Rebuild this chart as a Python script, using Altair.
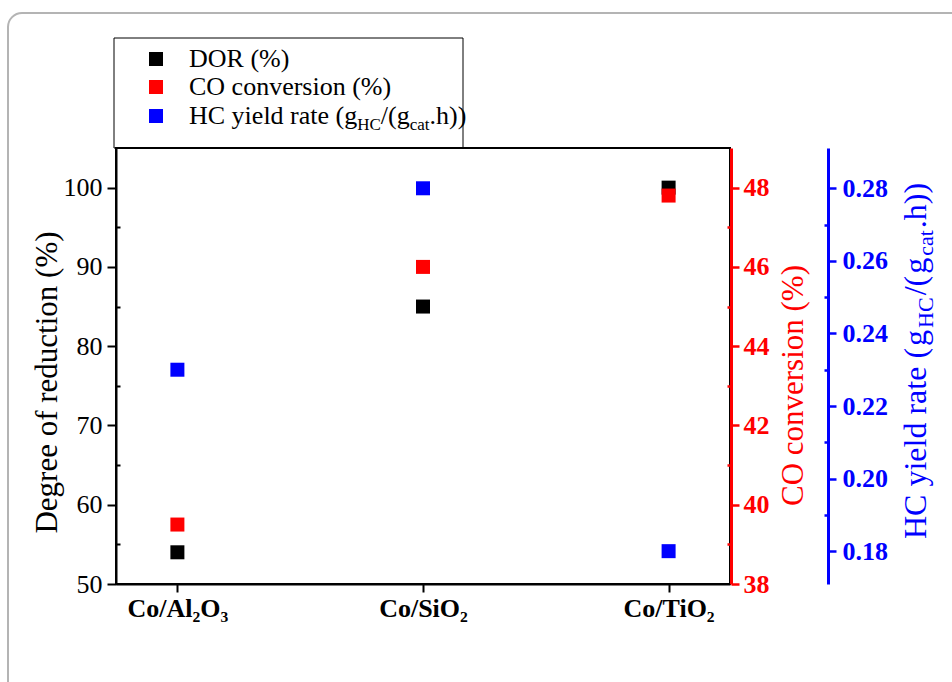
import altair as alt
import pandas as pd

# ---------------- data ----------------
categories = ["Co/Al₂O₃", "Co/SiO₂", "Co/TiO₂"]
dor = [54, 85, 100]
co_conv = [39.5, 46.0, 47.8]
hc_rate = [0.23, 0.28, 0.18]

series_names = ["DOR (%)", "CO conversion (%)"]
dor_ticks = [50, 60, 70, 80, 90, 100]
dor_minor = [55, 65, 75, 85, 95]
co_ticks = [38, 40, 42, 44, 46, 48]
co_minor = [39, 41, 43, 45, 47]
hc_ticks = [0.18, 0.20, 0.22, 0.24, 0.26, 0.28]
hc_minor = [0.19, 0.21, 0.23, 0.25, 0.27]

# ---------------- style ----------------
W, H = 614, 436
FONT = "Liberation Serif"
BLACK, RED, BLUE = "#000000", "#ff0000", "#0000ff"

df = pd.DataFrame({"cat": categories, "dor": dor, "co": co_conv, "hc": hc_rate})
one = pd.DataFrame({"k": [0]})

# Times/Liberation Serif advance widths (per 1000 em)
TW = {" ": 250, "(": 333, ")": 333, "/": 278, ".": 250, "%": 833,
      "H": 722, "C": 667, "a": 444, "c": 444, "d": 500, "e": 444, "g": 500,
      "h": 500, "i": 278, "l": 278, "r": 333, "t": 278, "y": 500}


def tw(s, size):
    return sum(TW.get(ch, 500) for ch in s) * size / 1000.0


x_enc = alt.X(
    "cat:N", sort=categories,
    scale=alt.Scale(type="point", padding=0.25),
    axis=alt.Axis(title=None, labelAngle=0, labelFont=FONT, labelFontSize=26,
                  labelFontWeight="bold", labelColor=BLACK, tickSize=8, tickWidth=2,
                  tickColor=BLACK, domainColor=BLACK, domainWidth=2, labelPadding=3),
)


def pts(field, color, domain, axis):
    return alt.Chart(df).mark_square(size=196, opacity=1, color=color).encode(
        x=x_enc,
        y=alt.Y(f"{field}:Q", scale=alt.Scale(domain=domain, nice=False, zero=False), axis=axis),
    )


def minor(field, domain, axis):
    return alt.Chart(df).mark_square(size=1, opacity=0).encode(
        x=x_enc,
        y=alt.Y(f"{field}:Q", scale=alt.Scale(domain=domain, nice=False, zero=False), axis=axis),
    )


dor_dom = [50, 105]
co_dom = [38, 49]
hc_dom = [0.17095, 0.2911]

dor_axis = alt.Axis(orient="left", values=dor_ticks, tickSize=9, tickWidth=2, tickColor=BLACK,
                    domainColor=BLACK, domainWidth=2, labelFont=FONT, labelFontSize=26,
                    labelColor=BLACK, labelPadding=5, grid=False,
                    title="Degree of reduction (%)", titleFont=FONT, titleFontSize=31,
                    titleFontWeight="normal", titleColor=BLACK, titleAngle=270,
                    titleX=-69, titleY=234, titleAlign="center", titleBaseline="middle")
dor_minor_axis = alt.Axis(orient="left", values=dor_minor, tickSize=4, tickWidth=2,
                          tickColor=BLACK, labels=False, domain=False, grid=False,
                          title=None, offset=-4)

co_axis = alt.Axis(orient="right", offset=1, values=co_ticks, tickSize=8, tickWidth=2.5,
                   tickColor=RED, domainColor=RED, domainWidth=3, labelFont=FONT,
                   labelFontSize=26, labelFontWeight="bold", labelColor=RED, labelPadding=4,
                   grid=False, title="CO conversion (%)", titleFont=FONT, titleFontSize=31,
                   titleFontWeight="normal", titleColor=RED, titleAngle=270,
                   titleX=62, titleY=237, titleAlign="center", titleBaseline="middle")
co_minor_axis = alt.Axis(orient="right", offset=-3, values=co_minor, tickSize=4, tickWidth=2.5,
                         tickColor=RED, labels=False, domain=False, grid=False, title=None)

hc_axis = alt.Axis(orient="right", offset=98, values=hc_ticks, format=".2f", tickSize=8,
                   tickWidth=2.5, tickColor=BLUE, domainColor=BLUE, domainWidth=3,
                   labelFont=FONT, labelFontSize=26, labelFontWeight="bold", labelColor=BLUE,
                   labelPadding=6, grid=False, title=None)
hc_minor_axis = alt.Axis(orient="right", offset=94, values=hc_minor, tickSize=4, tickWidth=2.5,
                         tickColor=BLUE, labels=False, domain=False, grid=False, title=None)

layers = [
    minor("dor", dor_dom, dor_minor_axis),
    pts("dor", BLACK, dor_dom, dor_axis),
    minor("co", co_dom, co_minor_axis),
    pts("co", RED, co_dom, co_axis),
    minor("hc", hc_dom, hc_minor_axis),
    pts("hc", BLUE, hc_dom, hc_axis),
]

# ---------------- decorations ----------------
card = alt.Chart(one).mark_rect(fillOpacity=0, stroke="#b4b4b4", strokeWidth=2,
                                cornerRadius=14).encode(
    x=alt.value(-108), x2=alt.value(W + 320), y=alt.value(-135), y2=alt.value(H + 300))

legend_box = alt.Chart(one).mark_rect(fillOpacity=0, stroke=BLACK, strokeWidth=1).encode(
    x=alt.value(-2), x2=alt.value(347), y=alt.value(-110), y2=alt.value(0))

deco = [card, legend_box]
leg_rows = [-89, -61, -32]
leg_colors = [BLACK, RED, BLUE]
for yy, col in zip(leg_rows, leg_colors):
    deco.append(alt.Chart(one).mark_square(size=196, opacity=1, color=col).encode(
        x=alt.value(40), y=alt.value(yy)))
for yy, name in zip(leg_rows[:2], series_names):
    deco.append(alt.Chart(one).mark_text(text=name, align="left", baseline="alphabetic",
                                         font=FONT, fontSize=26, color=BLACK).encode(
        x=alt.value(73), y=alt.value(yy + 8)))

# composite text with subscripts: (text, is_sub)
hc_segments = [("HC yield rate (", False), ("g", False), ("HC", True), ("/(", False),
               ("g", False), ("cat", True), (".h))", False)]

# legend (horizontal)
cur = 73
for txt, sub in hc_segments:
    size = 17 if sub else 26
    deco.append(alt.Chart(one).mark_text(text=txt, align="left", baseline="alphabetic",
                                         font=FONT, fontSize=size, color=BLACK).encode(
        x=alt.value(cur), y=alt.value(leg_rows[2] + 8 + (6 if sub else 0))))
    cur += tw(txt, size)

# right axis title (vertical, reading upwards)
cur = 391
for txt, sub in hc_segments:
    size = 22 if sub else 32
    deco.append(alt.Chart(one).mark_text(text=txt, align="left", baseline="alphabetic",
                                         angle=270, font=FONT, fontSize=size,
                                         color=BLUE).encode(
        x=alt.value(810 + (7 if sub else 0)), y=alt.value(cur)))
    cur -= tw(txt, size) + 2

chart = alt.layer(*(deco + layers)).resolve_scale(y="independent").resolve_axis(
    y="independent").properties(
    width=W, height=H,
    autosize=alt.AutoSizeParams(type="none"),
    padding={"left": 116, "top": 148, "right": 222, "bottom": 98},
    background="white",
).configure_view(stroke=BLACK, strokeWidth=2)

chart.save("out.html", embed_options={"renderer": "svg", "actions": False})
